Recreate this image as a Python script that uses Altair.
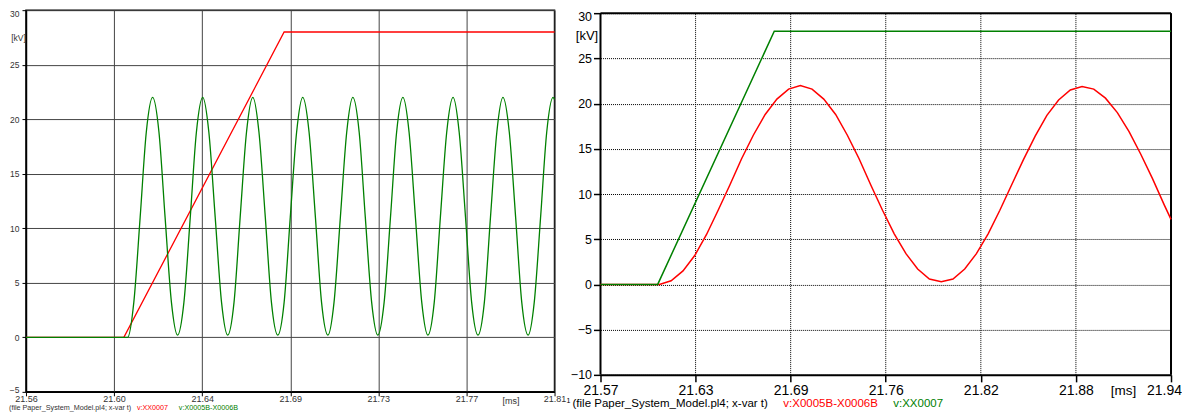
import json
import altair as alt
import pandas as pd

FONT = "Liberation Sans"

# ---------------- left panel ----------------
L_XTICKS = [21.56, 21.60167, 21.64333, 21.685, 21.72667, 21.76833, 21.81]
L_XLABELS = ["21.56", "21.60", "21.64", "21.69", "21.73", "21.77", "21.81"]
L_YTICKS = [-5, 0, 5, 10, 15, 20, 25, 30]

# v:XX0007 (red ramp)
L_XX0007_T = [21.56, 21.6063, 21.6821, 21.81]
L_XX0007_V = [0, 0, 28, 28]

# v:X0005B-X0006B (green oscillation)
L_X0005B_T = [
    21.5600, 21.6081, 21.6110, 21.6140, 21.6169, 21.6199, 21.6229, 21.6258, 21.6288,
    21.6317, 21.6347, 21.6377, 21.6406, 21.6436, 21.6465, 21.6495, 21.6525,
    21.6554, 21.6584, 21.6613, 21.6643, 21.6673, 21.6702, 21.6732, 21.6761,
    21.6791, 21.6821, 21.6850, 21.6880, 21.6909, 21.6939, 21.6969, 21.6998,
    21.7028, 21.7057, 21.7087, 21.7117, 21.7146, 21.7176, 21.7205, 21.7235,
    21.7264, 21.7294, 21.7324, 21.7353, 21.7383, 21.7412, 21.7442, 21.7472,
    21.7501, 21.7531, 21.7560, 21.7590, 21.7620, 21.7649, 21.7679, 21.7708,
    21.7738, 21.7768, 21.7797, 21.7827, 21.7856, 21.7886, 21.7916, 21.7945,
    21.7975, 21.8004, 21.8034, 21.8063, 21.8093, 21.8100,
]
L_X0005B_V = [
    0, 0, 3.2, 11.0, 18.8, 22.0, 18.8, 11.0, 3.2,
    0.2, 3.2, 11.0, 18.8, 22.0, 18.8, 11.0, 3.2,
    0.2, 3.2, 11.0, 18.8, 22.0, 18.8, 11.0, 3.2,
    0.2, 3.2, 11.0, 18.8, 22.0, 18.8, 11.0, 3.2,
    0.2, 3.2, 11.0, 18.8, 22.0, 18.8, 11.0, 3.2,
    0.2, 3.2, 11.0, 18.8, 22.0, 18.8, 11.0, 3.2,
    0.2, 3.2, 11.0, 18.8, 22.0, 18.8, 11.0, 3.2,
    0.2, 3.2, 11.0, 18.8, 22.0, 18.8, 11.0, 3.2,
    0.2, 3.2, 11.0, 18.8, 22.0, 21.8,
]

# ---------------- right panel ----------------
R_XTICKS = [21.57, 21.63167, 21.69333, 21.755, 21.81667, 21.87833, 21.94]
R_XLABELS = ["21.57", "21.63", "21.69", "21.76", "21.82", "21.88", "21.94"]
R_YTICKS = [-10, -5, 0, 5, 10, 15, 20, 25, 30]

# v:XX0007 (green ramp)
R_XX0007_T = [21.57, 21.6071, 21.6827, 21.94]
R_XX0007_V = [0, 0, 28, 28]

# v:X0005B-X0006B (red wave)
R_X0005B_T = [
    21.5700, 21.6082, 21.6158, 21.6235, 21.6311, 21.6387, 21.6463, 21.6539, 21.6615,
    21.6691, 21.6768, 21.6844, 21.6920, 21.6996, 21.7072, 21.7148, 21.7225, 21.7301,
    21.7377, 21.7453, 21.7529, 21.7605, 21.7681, 21.7757, 21.7833, 21.7910, 21.7986,
    21.8062, 21.8138, 21.8214, 21.8290, 21.8366, 21.8443, 21.8519, 21.8595, 21.8671,
    21.8747, 21.8823, 21.8899, 21.8975, 21.9052, 21.9128, 21.9204, 21.9280, 21.9356,
    21.9400,
]
R_X0005B_V = [
    0, 0, 0.4, 1.5, 3.2, 5.5, 8.2, 11.0, 13.9,
    16.5, 18.8, 20.5, 21.6, 22.0, 21.6, 20.5, 18.8, 16.5,
    13.9, 11.0, 8.2, 5.6, 3.4, 1.7, 0.6, 0.3, 0.6,
    1.7, 3.4, 5.6, 8.2, 11.0, 13.8, 16.4, 18.7, 20.4,
    21.5, 21.9, 21.6, 20.6, 19.0, 16.9, 14.4, 11.7, 8.8,
    7.2,
]

FOOT_FILE = "(file Paper_System_Model.pl4; x-var t)"
NAME_A = "v:XX0007"
NAME_B = "v:X0005B-X0006B"

RED = "#ff0000"
GREEN = "#008000"


def label_expr(ticks, labels):
    step = (ticks[-1] - ticks[0]) / (len(ticks) - 1)
    return f"{json.dumps(labels)}[round((datum.value - {ticks[0]}) / {step})]"


def end_label_nudge(lo, lo_px, hi, hi_px):
    return {"condition": [
        {"test": f"datum.value >= {hi}", "value": hi_px},
        {"test": f"datum.value <= {lo}", "value": lo_px},
    ], "value": 0}


def df(t, v):
    return pd.DataFrame({"t": t, "v": v})


# ================= LEFT CHART =================
LW, LH = 529, 382
lx_scale = alt.Scale(domain=[L_XTICKS[0], L_XTICKS[-1]], nice=False, zero=False)
ly_scale = alt.Scale(domain=[-5, 30], nice=False, zero=False)

lx_axis = alt.Axis(
    values=L_XTICKS, labelExpr=label_expr(L_XTICKS, L_XLABELS), labelFlush=False,
    labelOverlap=False, labelFont=FONT, labelFontSize=9, labelColor="#333",
    labelPadding=-1, tickSize=4, tickColor="#000", tickWidth=1,
    domainColor="#000", domainWidth=1.5,
    grid=True, gridColor="#444", gridWidth=1,
    title="[ms]", titleFont=FONT, titleFontSize=9, titleFontWeight="normal",
    titleColor="#333", titleX=485, titleY=9, titleAlign="center",
    titleBaseline="middle", titleAngle=0,
)
ly_axis = alt.Axis(
    values=L_YTICKS, labelFont=FONT, labelFontSize=8.5, labelColor="#333",
    labelPadding=3, tickSize=4, tickColor="#000", tickWidth=1,
    labelOffset=end_label_nudge(L_YTICKS[0], -2, L_YTICKS[-1], 3),
    domainColor="#000", domainWidth=1.5,
    grid=True, gridColor="#444", gridWidth=1,
    title="[kV]", titleFont=FONT, titleFontSize=8.5, titleFontWeight="normal",
    titleColor="#333", titleX=-8, titleY=27, titleAlign="center",
    titleBaseline="middle", titleAngle=0,
)

l_red = alt.Chart(df(L_XX0007_T, L_XX0007_V)).mark_line(
    color=RED, strokeWidth=1.3).encode(
    x=alt.X("t:Q", scale=lx_scale, axis=lx_axis),
    y=alt.Y("v:Q", scale=ly_scale, axis=ly_axis),
)
l_green = alt.Chart(df(L_X0005B_T, L_X0005B_V)).mark_line(
    color=GREEN, strokeWidth=1.3, interpolate="monotone").encode(
    x=alt.X("t:Q", scale=lx_scale), y=alt.Y("v:Q", scale=ly_scale))


def foot(text, color, size, x, y):
    return alt.Chart(pd.DataFrame({"txt": [text]})).mark_text(
        align="left", baseline="middle", font=FONT, fontSize=size, color=color
    ).encode(text="txt:N", x=alt.value(x), y=alt.value(y))


left = alt.layer(
    l_red, l_green,
    foot(FOOT_FILE, "#333", 7.2, -17, 398),
    foot(NAME_A, RED, 7.2, 111, 398),
    foot(NAME_B, GREEN, 7.2, 153, 398),
).properties(width=LW, height=LH,
             view=alt.ViewBackground(stroke="#000", strokeWidth=1.5))

# ================= RIGHT CHART =================
RW, RH = 571, 365
ry_top = 30 + 3 * 40 / 362.0
rx_scale = alt.Scale(domain=[R_XTICKS[0], R_XTICKS[-1]], nice=False, zero=False)
ry_scale = alt.Scale(domain=[-10, ry_top], nice=False, zero=False)

rx_axis = alt.Axis(
    values=R_XTICKS, labelExpr=label_expr(R_XTICKS, R_XLABELS), labelFlush=False,
    labelOverlap=False, labelFont=FONT, labelFontSize=14, labelColor="#000",
    labelPadding=2, tickSize=7, tickColor="#000", tickWidth=1.5,
    labelOffset={"condition": {"test": f"datum.value > {R_XTICKS[-1] - 0.01}",
                               "value": -7}, "value": 0},
    domainColor="#000", domainWidth=2, grid=False,
    title="[ms]", titleFont=FONT, titleFontSize=13.5, titleFontWeight="normal",
    titleColor="#000", titleX=523, titleY=16, titleAlign="center",
    titleBaseline="middle", titleAngle=0,
)
ry_axis = alt.Axis(
    values=R_YTICKS, labelFont=FONT, labelFontSize=12.5, labelColor="#000",
    labelPadding=2, tickSize=7, tickColor="#000", tickWidth=1.5,
    labelOffset=end_label_nudge(R_YTICKS[0] - 1, 0, R_YTICKS[-1], 3),
    domain=False, grid=True, gridColor="#000", gridWidth=1, gridDash=[1, 1],
    title="[kV]", titleFont=FONT, titleFontSize=13, titleFontWeight="normal",
    titleColor="#000", titleX=-14, titleY=25, titleAlign="center",
    titleBaseline="middle", titleAngle=0,
)

r_vgrid = alt.Chart(pd.DataFrame({"t": R_XTICKS[1:-1]})).mark_rule(
    color="#000", strokeWidth=1, strokeDash=[1, 1]).encode(
    x=alt.X("t:Q", scale=rx_scale, axis=rx_axis),
    y=alt.datum(-10, scale=ry_scale), y2=alt.datum(30),
)
r_frame_v = alt.Chart(pd.DataFrame({"t": [R_XTICKS[0], R_XTICKS[-1]]})).mark_rule(
    color="#000", strokeWidth=2).encode(
    x=alt.X("t:Q", scale=rx_scale),
    y=alt.Y("lo:Q", scale=ry_scale, axis=ry_axis), y2="hi:Q",
).transform_calculate(lo="-10", hi=str(R_YTICKS[-1]))
r_frame_top = alt.Chart(pd.DataFrame({"t": [R_XTICKS[0]], "t2": [R_XTICKS[-1]],
                                      "v": [R_YTICKS[-1]]})).mark_rule(
    color="#000", strokeWidth=2).encode(
    x=alt.X("t:Q", scale=rx_scale), x2="t2:Q",
    y=alt.Y("v:Q", scale=ry_scale),
)
r_red = alt.Chart(df(R_X0005B_T, R_X0005B_V)).mark_line(
    color=RED, strokeWidth=1.5).encode(
    x=alt.X("t:Q", scale=rx_scale), y=alt.Y("v:Q", scale=ry_scale))
r_green = alt.Chart(df(R_XX0007_T, R_XX0007_V)).mark_line(
    color=GREEN, strokeWidth=1.5).encode(
    x=alt.X("t:Q", scale=rx_scale), y=alt.Y("v:Q", scale=ry_scale))

right = alt.layer(
    r_vgrid, r_frame_v, r_frame_top, r_red, r_green,
    foot("1", "#000", 7, -34, 391),
    foot(FOOT_FILE, "#000", 11.5, -28, 394),
    foot(NAME_B, RED, 11.5, 183, 394),
    foot(NAME_A, GREEN, 11.5, 293, 394),
).properties(width=RW, height=RH, view=alt.ViewBackground(stroke=None))

chart = alt.hconcat(left, right, spacing=46, bounds="flush").properties(
    padding={"left": 0, "right": 0, "top": 0, "bottom": 0},
    background="#ffffff",
)

chart.save("out.html", embed_options={"renderer": "svg", "actions": False})
